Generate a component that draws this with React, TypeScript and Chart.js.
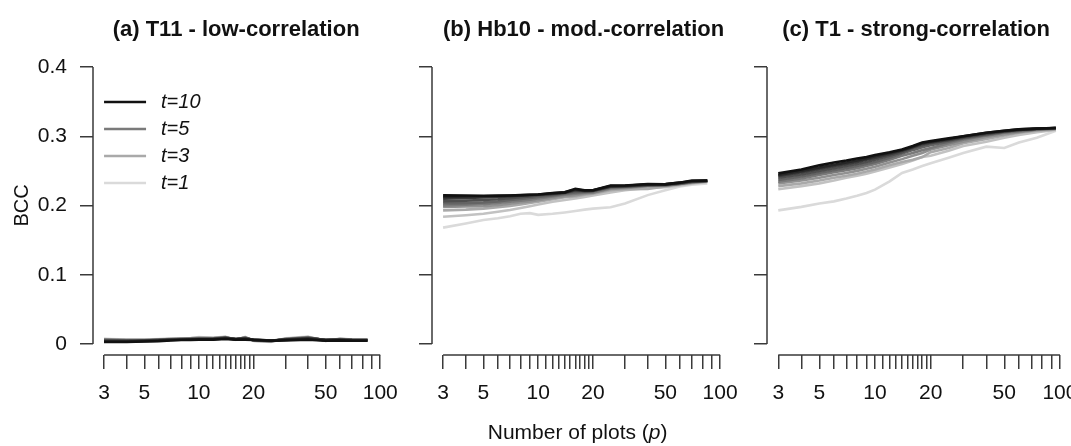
import React, { useEffect, useRef } from "react";
import { Chart, registerables } from "chart.js";

Chart.register(...registerables);

// ---------- data ----------
const P_AB = [3, 4, 5, 6, 7, 8, 9, 10, 12, 14, 16, 18, 20, 25, 30, 40, 50, 60, 70, 85];
const P_C = [3, 4, 5, 6, 7, 8, 9, 10, 12, 14, 16, 18, 20, 25, 30, 40, 50, 60, 75, 95];

const T_VALUES = [1, 2, 3, 4, 5, 6, 7, 8, 9, 10];
const T_COLORS = ["#dadada", "#c2c2c2", "#a9a9a9", "#919191", "#7a7a7a", "#646464", "#4e4e4e", "#393939", "#262626", "#111111"];
const LEGEND_T = [10, 5, 3, 1];

const X_TICKS = [3, 4, 5, 6, 7, 8, 9, 10, 11, 12, 13, 14, 15, 16, 17, 18, 19, 20, 30, 40, 50, 60, 70, 80, 90, 100];
const X_LABELS = [3, 5, 10, 20, 50, 100];
const Y_TICKS = [0, 0.1, 0.2, 0.3, 0.4];

const TITLES = ["(a) T11 - low-correlation", "(b) Hb10 - mod.-correlation", "(c) T1 - strong-correlation"];
const Y_TITLE = "BCC";

// rows: t=1 .. t=10
const BCC_A = [
  [0.0075, 0.0062, 0.0062, 0.007, 0.0078, 0.0082, 0.0085, 0.01, 0.009, 0.0105, 0.0058, 0.01, 0.0042, 0.003, 0.008, 0.0105, 0.0042, 0.0078, 0.0064, 0.006],
  [0.007, 0.006, 0.006, 0.0068, 0.0075, 0.008, 0.0082, 0.0095, 0.0088, 0.01, 0.006, 0.0098, 0.0045, 0.0032, 0.0078, 0.01, 0.0045, 0.0075, 0.0062, 0.006],
  [0.0065, 0.0058, 0.0058, 0.0065, 0.0072, 0.0078, 0.008, 0.009, 0.0085, 0.0098, 0.0062, 0.0095, 0.0048, 0.0035, 0.0075, 0.0098, 0.0048, 0.0072, 0.0062, 0.0058],
  [0.0062, 0.0055, 0.0055, 0.0062, 0.007, 0.0075, 0.0078, 0.0085, 0.0082, 0.0095, 0.0065, 0.0092, 0.005, 0.0038, 0.0072, 0.0095, 0.005, 0.007, 0.006, 0.0058],
  [0.006, 0.0052, 0.0052, 0.006, 0.0068, 0.0072, 0.0075, 0.008, 0.008, 0.0092, 0.0068, 0.009, 0.0052, 0.004, 0.007, 0.0092, 0.0052, 0.0068, 0.006, 0.0057],
  [0.0055, 0.005, 0.005, 0.0058, 0.0065, 0.007, 0.0072, 0.0075, 0.0078, 0.009, 0.007, 0.0085, 0.0055, 0.0042, 0.0068, 0.009, 0.0055, 0.0065, 0.0058, 0.0056],
  [0.005, 0.0045, 0.0048, 0.0055, 0.0062, 0.0068, 0.007, 0.0072, 0.0075, 0.0088, 0.0072, 0.0082, 0.0058, 0.0045, 0.0065, 0.0085, 0.0058, 0.0062, 0.0056, 0.0055],
  [0.0042, 0.004, 0.0045, 0.0052, 0.006, 0.0065, 0.0068, 0.007, 0.0072, 0.0085, 0.007, 0.0078, 0.0062, 0.0048, 0.0062, 0.008, 0.006, 0.006, 0.0055, 0.0054],
  [0.0035, 0.0034, 0.004, 0.0048, 0.0056, 0.006, 0.0064, 0.0066, 0.0068, 0.0078, 0.0066, 0.007, 0.0058, 0.005, 0.0058, 0.0072, 0.0052, 0.0056, 0.005, 0.005],
  [0.0028, 0.0028, 0.0034, 0.004, 0.005, 0.0056, 0.0058, 0.0062, 0.0062, 0.0072, 0.0062, 0.0062, 0.0056, 0.0046, 0.0052, 0.0062, 0.0046, 0.0052, 0.0046, 0.0046],
];

const BCC_B = [
  [0.168, 0.174, 0.179, 0.1815, 0.1845, 0.188, 0.189, 0.1865, 0.188, 0.19, 0.192, 0.194, 0.1955, 0.1975, 0.203, 0.215, 0.222, 0.2275, 0.23, 0.232],
  [0.1838, 0.186, 0.188, 0.191, 0.1935, 0.1965, 0.199, 0.2015, 0.2055, 0.208, 0.21, 0.2125, 0.2145, 0.219, 0.222, 0.2255, 0.2265, 0.229, 0.2315, 0.234],
  [0.193, 0.194, 0.1955, 0.1975, 0.1995, 0.2015, 0.2035, 0.2055, 0.209, 0.212, 0.213, 0.2155, 0.217, 0.222, 0.2235, 0.224, 0.2275, 0.2305, 0.2325, 0.2345],
  [0.198, 0.1985, 0.199, 0.2005, 0.2025, 0.2045, 0.206, 0.2075, 0.211, 0.2135, 0.215, 0.217, 0.218, 0.224, 0.225, 0.228, 0.2285, 0.231, 0.233, 0.235],
  [0.2, 0.201, 0.202, 0.2035, 0.2055, 0.207, 0.2085, 0.21, 0.213, 0.2155, 0.217, 0.2185, 0.219, 0.225, 0.226, 0.2285, 0.229, 0.231, 0.2335, 0.235],
  [0.203, 0.2035, 0.2045, 0.206, 0.208, 0.2095, 0.211, 0.2125, 0.2145, 0.217, 0.219, 0.2195, 0.2205, 0.226, 0.227, 0.229, 0.2295, 0.2315, 0.234, 0.2355],
  [0.2063, 0.207, 0.208, 0.209, 0.2105, 0.212, 0.213, 0.2145, 0.216, 0.218, 0.221, 0.2205, 0.221, 0.227, 0.2275, 0.2295, 0.23, 0.232, 0.2345, 0.2355],
  [0.21, 0.2108, 0.2115, 0.2122, 0.213, 0.214, 0.2148, 0.2155, 0.217, 0.2185, 0.222, 0.221, 0.2215, 0.2275, 0.228, 0.23, 0.2305, 0.2325, 0.235, 0.2357],
  [0.2125, 0.213, 0.2133, 0.2138, 0.2142, 0.2148, 0.2153, 0.2158, 0.2175, 0.219, 0.223, 0.2215, 0.222, 0.228, 0.2285, 0.2305, 0.231, 0.233, 0.235, 0.236],
  [0.2147, 0.2145, 0.214, 0.2142, 0.2145, 0.215, 0.2155, 0.216, 0.218, 0.219, 0.224, 0.222, 0.222, 0.229, 0.229, 0.231, 0.2305, 0.233, 0.236, 0.236],
];

const BCC_C = [
  [0.193, 0.198, 0.203, 0.206, 0.21, 0.214, 0.218, 0.223, 0.235, 0.247, 0.252, 0.257, 0.261, 0.269, 0.276, 0.285, 0.283, 0.291, 0.298, 0.308],
  [0.2236, 0.228, 0.232, 0.236, 0.24, 0.243, 0.246, 0.249, 0.255, 0.26, 0.265, 0.27, 0.272, 0.279, 0.286, 0.292, 0.298, 0.302, 0.306, 0.309],
  [0.228, 0.232, 0.236, 0.24, 0.243, 0.246, 0.249, 0.252, 0.258, 0.263, 0.266, 0.27, 0.277, 0.283, 0.29, 0.296, 0.301, 0.305, 0.308, 0.31],
  [0.232, 0.236, 0.24, 0.244, 0.247, 0.25, 0.253, 0.256, 0.262, 0.267, 0.272, 0.276, 0.281, 0.287, 0.292, 0.299, 0.303, 0.306, 0.309, 0.311],
  [0.2343, 0.239, 0.244, 0.248, 0.251, 0.254, 0.257, 0.26, 0.266, 0.272, 0.276, 0.28, 0.283, 0.29, 0.295, 0.301, 0.305, 0.307, 0.31, 0.311],
  [0.237, 0.242, 0.247, 0.251, 0.254, 0.257, 0.26, 0.263, 0.269, 0.275, 0.28, 0.284, 0.287, 0.292, 0.297, 0.302, 0.306, 0.308, 0.31, 0.312],
  [0.24, 0.245, 0.25, 0.254, 0.257, 0.26, 0.263, 0.266, 0.272, 0.277, 0.283, 0.287, 0.29, 0.294, 0.298, 0.303, 0.307, 0.309, 0.311, 0.312],
  [0.2425, 0.248, 0.253, 0.257, 0.26, 0.263, 0.266, 0.269, 0.274, 0.279, 0.284, 0.289, 0.291, 0.295, 0.299, 0.304, 0.307, 0.309, 0.311, 0.312],
  [0.244, 0.25, 0.255, 0.259, 0.262, 0.265, 0.268, 0.271, 0.276, 0.28, 0.285, 0.29, 0.292, 0.296, 0.3, 0.305, 0.308, 0.31, 0.311, 0.312],
  [0.2464, 0.252, 0.258, 0.262, 0.265, 0.268, 0.27, 0.273, 0.277, 0.281, 0.286, 0.291, 0.293, 0.297, 0.3, 0.305, 0.308, 0.31, 0.311, 0.312],
];

// ---------- style ----------
const FONT = "'Liberation Sans', Arial, Helvetica, sans-serif";
const AXIS_COLOR = "#3a3a3a";
const TEXT_COLOR = "#111111";
const LINE_WIDTH = 2.6;

const X_LOG_SPAN = Math.log10(100 / 3);
const X_EXT = Math.pow(10, 0.04 * X_LOG_SPAN);
const X_MIN = 3 / X_EXT;
const X_MAX = 100 * X_EXT;
const Y_MIN = -0.016;
const Y_MAX = 0.416;

const rPlugin = {
  id: "rStyle",
  afterDraw(chart: any, _args: any, opts: any) {
    const { ctx, chartArea } = chart;
    const x = chart.scales.x;
    const y = chart.scales.y;
    ctx.save();
    // R-style axis lines (only across the tick range)
    ctx.strokeStyle = AXIS_COLOR;
    ctx.lineWidth = 1.5;
    ctx.beginPath();
    ctx.moveTo(chartArea.left, y.getPixelForValue(Y_TICKS[0]));
    ctx.lineTo(chartArea.left, y.getPixelForValue(Y_TICKS[Y_TICKS.length - 1]));
    ctx.moveTo(x.getPixelForValue(X_TICKS[0]), chartArea.bottom);
    ctx.lineTo(x.getPixelForValue(X_TICKS[X_TICKS.length - 1]), chartArea.bottom);
    ctx.stroke();

    // panel title
    ctx.fillStyle = TEXT_COLOR;
    ctx.font = `bold 22px ${FONT}`;
    ctx.textAlign = "center";
    ctx.textBaseline = "alphabetic";
    ctx.fillText(opts.title, (chartArea.left + chartArea.right) / 2 + (opts.titleShift || 0), 36);

    // legend
    if (opts.legend) {
      const x0 = x.getPixelForValue(3);
      LEGEND_T.forEach((t, i) => {
        const yy = chartArea.top + 46 + i * 27;
        ctx.strokeStyle = T_COLORS[T_VALUES.indexOf(t)];
        ctx.lineWidth = LINE_WIDTH;
        ctx.beginPath();
        ctx.moveTo(x0, yy);
        ctx.lineTo(x0 + 42, yy);
        ctx.stroke();
        ctx.fillStyle = TEXT_COLOR;
        ctx.font = `italic 20px ${FONT}`;
        ctx.textAlign = "left";
        ctx.textBaseline = "middle";
        ctx.fillText(`t=${t}`, x0 + 57, yy);
      });
    }

    // shared x-axis title
    if (opts.xTitle) {
      const parts = [
        { s: "Number of plots (", f: `21px ${FONT}` },
        { s: "p", f: `italic 21px ${FONT}` },
        { s: ")", f: `21px ${FONT}` },
      ];
      let total = 0;
      parts.forEach((p) => {
        ctx.font = p.f;
        total += ctx.measureText(p.s).width;
      });
      let cx = (chartArea.left + chartArea.right) / 2 - 4 - total / 2;
      ctx.fillStyle = TEXT_COLOR;
      ctx.textAlign = "left";
      ctx.textBaseline = "middle";
      parts.forEach((p) => {
        ctx.font = p.f;
        ctx.fillText(p.s, cx, 433);
        cx += ctx.measureText(p.s).width;
      });
    }
    ctx.restore();
  },
};

type PanelDef = {
  p: number[];
  rows: number[][];
  title: string;
  titleShift: number;
  yLabels: boolean;
  legend: boolean;
  xTitle: boolean;
  yWidth: number;
  padRight: number;
};

function makeConfig(d: PanelDef): any {
  const datasets = T_VALUES.map((t, i) => ({
    label: `t=${t}`,
    data: d.p.map((px, j) => ({ x: px, y: d.rows[i][j] })),
    borderColor: T_COLORS[i],
    backgroundColor: T_COLORS[i],
    borderWidth: LINE_WIDTH,
    pointRadius: 0,
    tension: 0,
    fill: false,
  })).reverse(); // t=10 first -> drawn on top

  return {
    type: "line",
    data: { datasets },
    plugins: [rPlugin],
    options: {
      animation: false,
      responsive: false,
      events: [],
      layout: { padding: { top: 56, right: d.padRight, left: 0, bottom: 0 } },
      plugins: {
        legend: { display: false },
        tooltip: { enabled: false },
        title: { display: false },
        rStyle: { title: d.title, titleShift: d.titleShift, legend: d.legend, xTitle: d.xTitle },
      },
      scales: {
        x: {
          type: "logarithmic",
          min: X_MIN,
          max: X_MAX,
          afterBuildTicks: (s: any) => {
            s.ticks = X_TICKS.map((v) => ({ value: v }));
          },
          afterFit: (s: any) => {
            s.height = 91;
          },
          border: { display: false },
          grid: {
            drawOnChartArea: false,
            drawTicks: true,
            tickLength: 14,
            color: AXIS_COLOR,
            lineWidth: 1.5,
          },
          ticks: {
            autoSkip: false,
            maxRotation: 0,
            minRotation: 0,
            padding: 12,
            color: TEXT_COLOR,
            font: { family: FONT, size: 21 },
            callback: (v: any) => (X_LABELS.includes(Number(v)) ? String(v) : ""),
          },
        },
        y: {
          type: "linear",
          min: Y_MIN,
          max: Y_MAX,
          afterBuildTicks: (s: any) => {
            s.ticks = Y_TICKS.map((v) => ({ value: v }));
          },
          afterFit: (s: any) => {
            s.width = d.yWidth;
          },
          border: { display: false },
          grid: {
            drawOnChartArea: false,
            drawTicks: true,
            tickLength: 13,
            color: AXIS_COLOR,
            lineWidth: 1.5,
          },
          title: {
            display: d.yLabels,
            text: Y_TITLE,
            color: TEXT_COLOR,
            font: { family: FONT, size: 20 },
            padding: { top: 10, bottom: 0 },
          },
          ticks: {
            padding: 13,
            color: TEXT_COLOR,
            font: { family: FONT, size: 21 },
            callback: (v: any) => (d.yLabels ? String(Number(v)) : ""),
          },
        },
      },
    },
  };
}

const PANELS: { left: number; width: number; def: PanelDef }[] = [
  {
    left: 0,
    width: 410,
    def: { p: P_AB, rows: BCC_A, title: TITLES[0], titleShift: -6, yLabels: true, legend: true, xTitle: false, yWidth: 93, padRight: 7 },
  },
  {
    left: 410,
    width: 340,
    def: { p: P_AB, rows: BCC_B, title: TITLES[1], titleShift: 2, yLabels: false, legend: false, xTitle: true, yWidth: 22, padRight: 10 },
  },
  {
    left: 750,
    width: 340,
    def: { p: P_C, rows: BCC_C, title: TITLES[2], titleShift: -3, yLabels: false, legend: false, xTitle: false, yWidth: 17, padRight: 14 },
  },
];

function Panel({ left, width, def }: { left: number; width: number; def: PanelDef }) {
  const ref = useRef<HTMLCanvasElement | null>(null);
  useEffect(() => {
    if (!ref.current) return;
    const chart = new Chart(ref.current, makeConfig(def));
    return () => chart.destroy();
  }, []);
  return (
    <canvas
      ref={ref}
      width={width}
      height={446}
      style={{ position: "absolute", left, top: 0, width, height: 446 }}
    />
  );
}

export default function App() {
  return (
    <div
      style={{
        position: "fixed",
        left: 0,
        top: 0,
        width: 1071,
        height: 446,
        overflow: "hidden",
        background: "#ffffff",
      }}
    >
      {PANELS.map((p, i) => (
        <Panel key={i} left={p.left} width={p.width} def={p.def} />
      ))}
    </div>
  );
}
